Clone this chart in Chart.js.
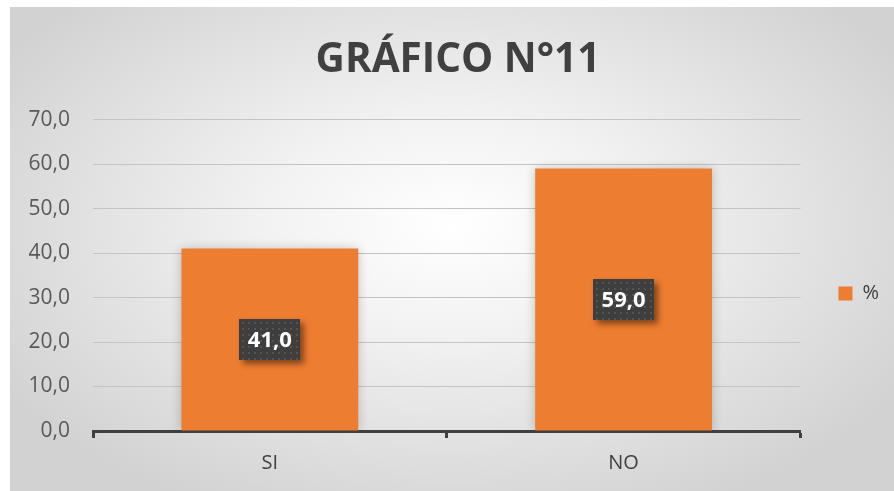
<!DOCTYPE html>
<html>
<head>
<meta charset="utf-8">
<script src="https://cdn.jsdelivr.net/npm/chart.js@4.4.0/dist/chart.umd.min.js"></script>
<style>
    html, body { margin: 0; padding: 0; background: #ffffff; }
    .chart-box {
        position: absolute;
        left: 10px;
        top: 7px;
        width: 884px;
        height: 484px;
        background: radial-gradient(ellipse 60% 65% at 50% 45%, #ffffff 0%, #f2f2f2 35%, #d2d2d2 100%);
    }
</style>
</head>
<body>
<div class="chart-box">
    <canvas id="grafico11" width="884" height="484"></canvas>
</div>
<script>
// Data
const categories = ['SI', 'NO'];
const percentValues = [41.0, 59.0];
const seriesName = '%';
const yTicks = { min: 0, max: 70, step: 10 };

function formatComma(v) {
    return Number(v).toFixed(1).replace('.', ',');
}

// soft shadow behind the bars
const barShadow = {
    id: 'barShadow',
    beforeDatasetsDraw(chart) {
        const ctx = chart.ctx;
        ctx.save();
        ctx.shadowColor = 'rgba(0,0,0,0.22)';
        ctx.shadowBlur = 10;
    },
    afterDatasetsDraw(chart) {
        chart.ctx.restore();
    }
};

// dark value labels in the middle of each bar
const valueBoxes = {
    id: 'valueBoxes',
    afterDatasetsDraw(chart) {
        const ctx = chart.ctx;
        const meta = chart.getDatasetMeta(0);
        meta.data.forEach(function(bar, i) {
            const text = formatComma(percentValues[i]);
            const cx = bar.x;
            const cy = (bar.y + bar.base) / 2;
            ctx.save();
            ctx.font = 'bold 22px "Open Sans"';
            const w = Math.round(ctx.measureText(text).width + 17);
            const h = 41;
            const x0 = Math.round(cx - w / 2);
            const y0 = Math.round(cy - h / 2);

            ctx.shadowColor = 'rgba(0,0,0,0.45)';
            ctx.shadowBlur = 6;
            ctx.shadowOffsetX = 4;
            ctx.shadowOffsetY = 4;
            ctx.fillStyle = '#3e3e3e';
            ctx.fillRect(x0, y0, w, h);
            ctx.shadowColor = 'transparent';

            // dotted texture
            ctx.fillStyle = '#545454';
            for (let yy = y0 + 3; yy < y0 + h - 1; yy += 6) {
                for (let xx = x0 + 3; xx < x0 + w - 1; xx += 6) {
                    ctx.fillRect(xx, yy, 2, 2);
                }
            }

            ctx.fillStyle = '#ffffff';
            ctx.textAlign = 'center';
            ctx.textBaseline = 'middle';
            ctx.fillText(text, cx, cy + 1);
            ctx.restore();
        });
    }
};

const ctx = document.getElementById('grafico11').getContext('2d');
const chart = new Chart(ctx, {
    type: 'bar',
    data: {
        labels: categories,
        datasets: [{
            label: seriesName,
            data: percentValues,
            backgroundColor: '#ED7D31',
            borderWidth: 0,
            barPercentage: 0.5,
            categoryPercentage: 1.0
        }]
    },
    options: {
        responsive: false,
        animation: false,
        layout: {
            padding: { left: 17, right: 5, top: 0, bottom: 3 }
        },
        plugins: {
            title: {
                display: true,
                text: 'GRÁFICO N°11',
                color: '#404040',
                font: { family: '"Open Sans"', size: 40.5, weight: 'bold', lineHeight: 1.2 },
                padding: { top: 29, bottom: 35 }
            },
            legend: {
                position: 'right',
                labels: {
                    color: '#404040',
                    boxWidth: 14,
                    boxHeight: 14,
                    padding: 10,
                    font: { family: '"Open Sans"', size: 20 }
                },
                // blank legend title, only used to push the entry down
                title: {
                    display: true,
                    text: ' ',
                    font: { size: 10, lineHeight: 1.2 },
                    padding: { top: 40, bottom: 40 }
                }
            },
            tooltip: { enabled: false }
        },
        scales: {
            y: {
                min: yTicks.min,
                max: yTicks.max,
                ticks: {
                    stepSize: yTicks.step,
                    color: '#595959',
                    padding: 23,
                    font: { family: '"Open Sans"', size: 21 },
                    callback: function(value) {
                        return formatComma(value);
                    }
                },
                grid: {
                    color: '#c4c4c4',
                    lineWidth: 1,
                    drawTicks: false
                },
                border: { display: false },
                afterFit: function(scale) {
                    scale.width = 66;
                }
            },
            // empty axis that only keeps room between the plot and the legend
            spacer: {
                type: 'linear',
                position: 'right',
                display: true,
                ticks: { display: false },
                grid: { display: false, drawTicks: false },
                border: { display: false },
                afterFit: function(scale) {
                    scale.width = 28;
                }
            },
            x: {
                offset: true,
                ticks: {
                    color: '#404040',
                    padding: 13,
                    font: { family: '"Open Sans"', size: 20 }
                },
                grid: {
                    offset: true,
                    drawOnChartArea: false,
                    drawTicks: true,
                    tickLength: 7,
                    tickWidth: 3,
                    tickColor: '#404040'
                },
                border: { color: '#404040', width: 3 }
            }
        }
    },
    plugins: [barShadow, valueBoxes]
});
</script>
</body>
</html>
